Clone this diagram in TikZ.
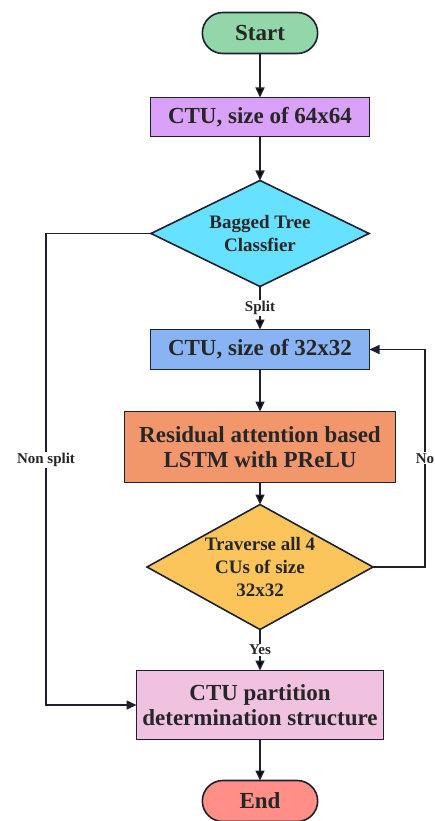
\documentclass[tikz,border=0pt]{standalone}
\usepackage{fontspec}
\setmainfont{Liberation Serif}
\usetikzlibrary{shapes.geometric, shapes.misc, positioning, arrows.meta}
\definecolor{edgeline}{HTML}{1E1F30}
\definecolor{startgreen}{HTML}{92D6A9}
\definecolor{ctuviolet}{HTML}{D9A1F7}
\definecolor{treecyan}{HTML}{66E1FF}
\definecolor{ctublue}{HTML}{89B4F4}
\definecolor{lstmorange}{HTML}{F2976C}
\definecolor{traverseyellow}{HTML}{FCC55C}
\definecolor{partpink}{HTML}{F0C2DF}
\definecolor{endred}{HTML}{FF8F87}
\tikzset{
>={Triangle[length=10pt,width=9pt]}, % filled arrow heads
flow/.style={->, draw=edgeline, line width=1.6pt}, % the connectors
terminal/.style={rounded rectangle, draw=edgeline, line width=1.6pt, outer sep=0pt, text=black!85, minimum width=122pt, minimum height=41pt, font=\fontsize{23}{25}\selectfont\bfseries}, % start and end
process/.style={rectangle, draw=edgeline, line width=1.6pt, outer sep=0pt, text=black!85, align=center, inner sep=2pt, font=\fontsize{23}{25}\selectfont\bfseries}, % plain steps
decision/.style={diamond, draw=edgeline, line width=1.6pt, outer sep=0pt, text=black!85, align=center, inner sep=0pt, font=\fontsize{19}{23}\selectfont\bfseries}, % questions
lbl/.style={fill=white, text=black!85, inner sep=1pt, font=\fontsize{15}{17}\selectfont\bfseries}, % texts on the connectors
}
\begin{document}
\begin{tikzpicture}[x=1pt, y=-1pt]
    \useasboundingbox (0,0) rectangle (435,821);
    \node[terminal, fill=startgreen] (start) at (260,33) {Start};
    \node[process, fill=ctuviolet, minimum width=219pt, minimum height=39pt, below=44pt of start] (ctu64) {CTU, size of 64x64};
    \node[decision, fill=treecyan, aspect=2.06, minimum width=218pt, minimum height=106pt, below=44pt of ctu64] (bagged) {Bagged Tree\\Classfier};
    \node[process, fill=ctublue, minimum width=219pt, minimum height=40pt, below=43pt of bagged] (ctu32) {CTU, size of 32x32};
    \node[process, fill=lstmorange, minimum width=271pt, minimum height=71pt, below=42pt of ctu32] (lstm) {Residual attention based\\LSTM with PReLU};
    \node[decision, fill=traverseyellow, aspect=1.8, minimum width=226pt, minimum height=125pt, below=22pt of lstm] (traverse) {Traverse all 4\\CUs of size\\32x32};
    \node[process, fill=partpink, minimum width=247pt, minimum height=69pt, below=41pt of traverse] (part) {CTU partition\\determination structure};
    \node[terminal, fill=endred, below=41pt of part] (end) {End};
    \coordinate (nonsplit) at (46,0);
    \coordinate (notyet) at (425,0);
    \draw[flow]
    (start) edge (ctu64)
    (ctu64) edge (bagged)
    (bagged) edge node[lbl]{Split} (ctu32)
    (ctu32) edge (lstm)
    (lstm) edge (traverse)
    (traverse) edge node[lbl]{Yes} (part)
    (part) edge (end);
    \draw[flow] (bagged.west) -- (bagged.west -| nonsplit) |- (part.west) node[lbl, pos=0.24]{Non split};
    \draw[flow] (traverse.east) -- (traverse.east -| notyet) |- (ctu32.east) node[lbl, pos=0.25]{No};
\end{tikzpicture}
\end{document}
